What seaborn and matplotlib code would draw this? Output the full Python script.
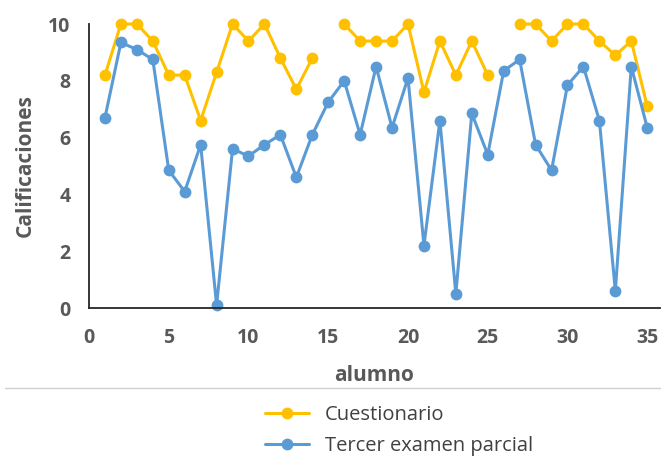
import numpy as np
import pandas as pd
import matplotlib
matplotlib.use("Agg")
import matplotlib.pyplot as plt
from matplotlib.lines import Line2D
import seaborn as sns

# Student numbers and scores
alumno = list(range(1, 36))
cuestionario = [8.2, 10, 10, 9.4, 8.2, 8.2, 6.6, 8.3, 10, 9.4,
                10, 8.8, 7.7, 8.8, np.nan, 10, 9.4, 9.4, 9.4, 10,
                7.6, 9.4, 8.2, 9.4, 8.2, np.nan, 10, 10, 9.4, 10,
                10, 9.4, 8.9, 9.4, 7.1]
tercer_examen = [6.7, 9.35, 9.1, 8.75, 4.85, 4.1, 5.75, 0.1, 5.6, 5.35,
                 5.75, 6.1, 4.6, 6.1, 7.25, 8.0, 6.1, 8.5, 6.35, 8.1,
                 2.2, 6.6, 0.5, 6.85, 5.4, 8.35, 8.75, 5.75, 4.85, 7.85,
                 8.5, 6.6, 0.6, 8.5, 6.35]
series_names = ["Cuestionario", "Tercer examen parcial"]
series_colors = ["#FFC000", "#5B9BD5"]

df = pd.DataFrame({
    "alumno": alumno * 2,
    "nota": cuestionario + tercer_examen,
    "serie": [series_names[0]] * 35 + [series_names[1]] * 35,
})

sns.set_theme(style="white")
plt.rcParams["font.family"] = ["Open Sans", "DejaVu Sans"]

LW = 2.2
MS = 8.5

fig = plt.figure(figsize=(6.61, 4.58), dpi=100)
ax = fig.add_axes([89 / 661, 1 - 308 / 458, (660 - 89) / 661, (308 - 24) / 458])

for name, color in zip(series_names, series_colors):
    sub = df[df["serie"] == name]
    # plot contiguous runs so missing scores leave a gap in the line
    valid = sub["nota"].notna()
    grp = sub["nota"].isna().cumsum()
    for _, run in sub[valid].groupby(grp[valid]):
        sns.lineplot(data=run, x="alumno", y="nota", ax=ax, color=color,
                     linewidth=LW, marker="o", markersize=MS,
                     markeredgewidth=0, clip_on=False, legend=False,
                     estimator=None)

ax.set_xlim(0, 35.8)
ax.set_ylim(0, 10)
ax.set_xticks(range(0, 36, 5))
ax.set_yticks(range(0, 11, 2))

for side in ["top", "right"]:
    ax.spines[side].set_visible(False)
for side in ["left", "bottom"]:
    ax.spines[side].set_color("#262626")
    ax.spines[side].set_linewidth(1.3)

ax.tick_params(axis="both", direction="inout", length=9, width=1.3,
               color="#262626", labelsize=14, labelcolor="#595959")
ax.tick_params(axis="x", pad=10)
ax.tick_params(axis="y", pad=9)
for lab in ax.get_xticklabels() + ax.get_yticklabels():
    lab.set_fontweight("bold")

ax.set_xlabel("alumno", fontsize=15, fontweight="bold", color="#595959", labelpad=12)
ax.set_ylabel("Calificaciones", fontsize=15, fontweight="bold", color="#595959", labelpad=9)

# separator line above the legend
fig.add_artist(Line2D([5 / 661, 1], [1 - 388 / 458] * 2, transform=fig.transFigure,
                      color="#d0d0d0", linewidth=1))

handles = [Line2D([], [], color=c, linewidth=LW, marker="o", markersize=MS,
                  markeredgewidth=0) for c in series_colors]
fig.legend(handles, series_names, loc="upper left",
           bbox_to_anchor=(247 / 661, 1 - 387 / 458), frameon=False,
           fontsize=14.5, labelcolor="#404040", handlelength=2.2,
           handletextpad=0.75, labelspacing=0.55, borderpad=0.4)

fig.savefig("out.png", dpi=100)
